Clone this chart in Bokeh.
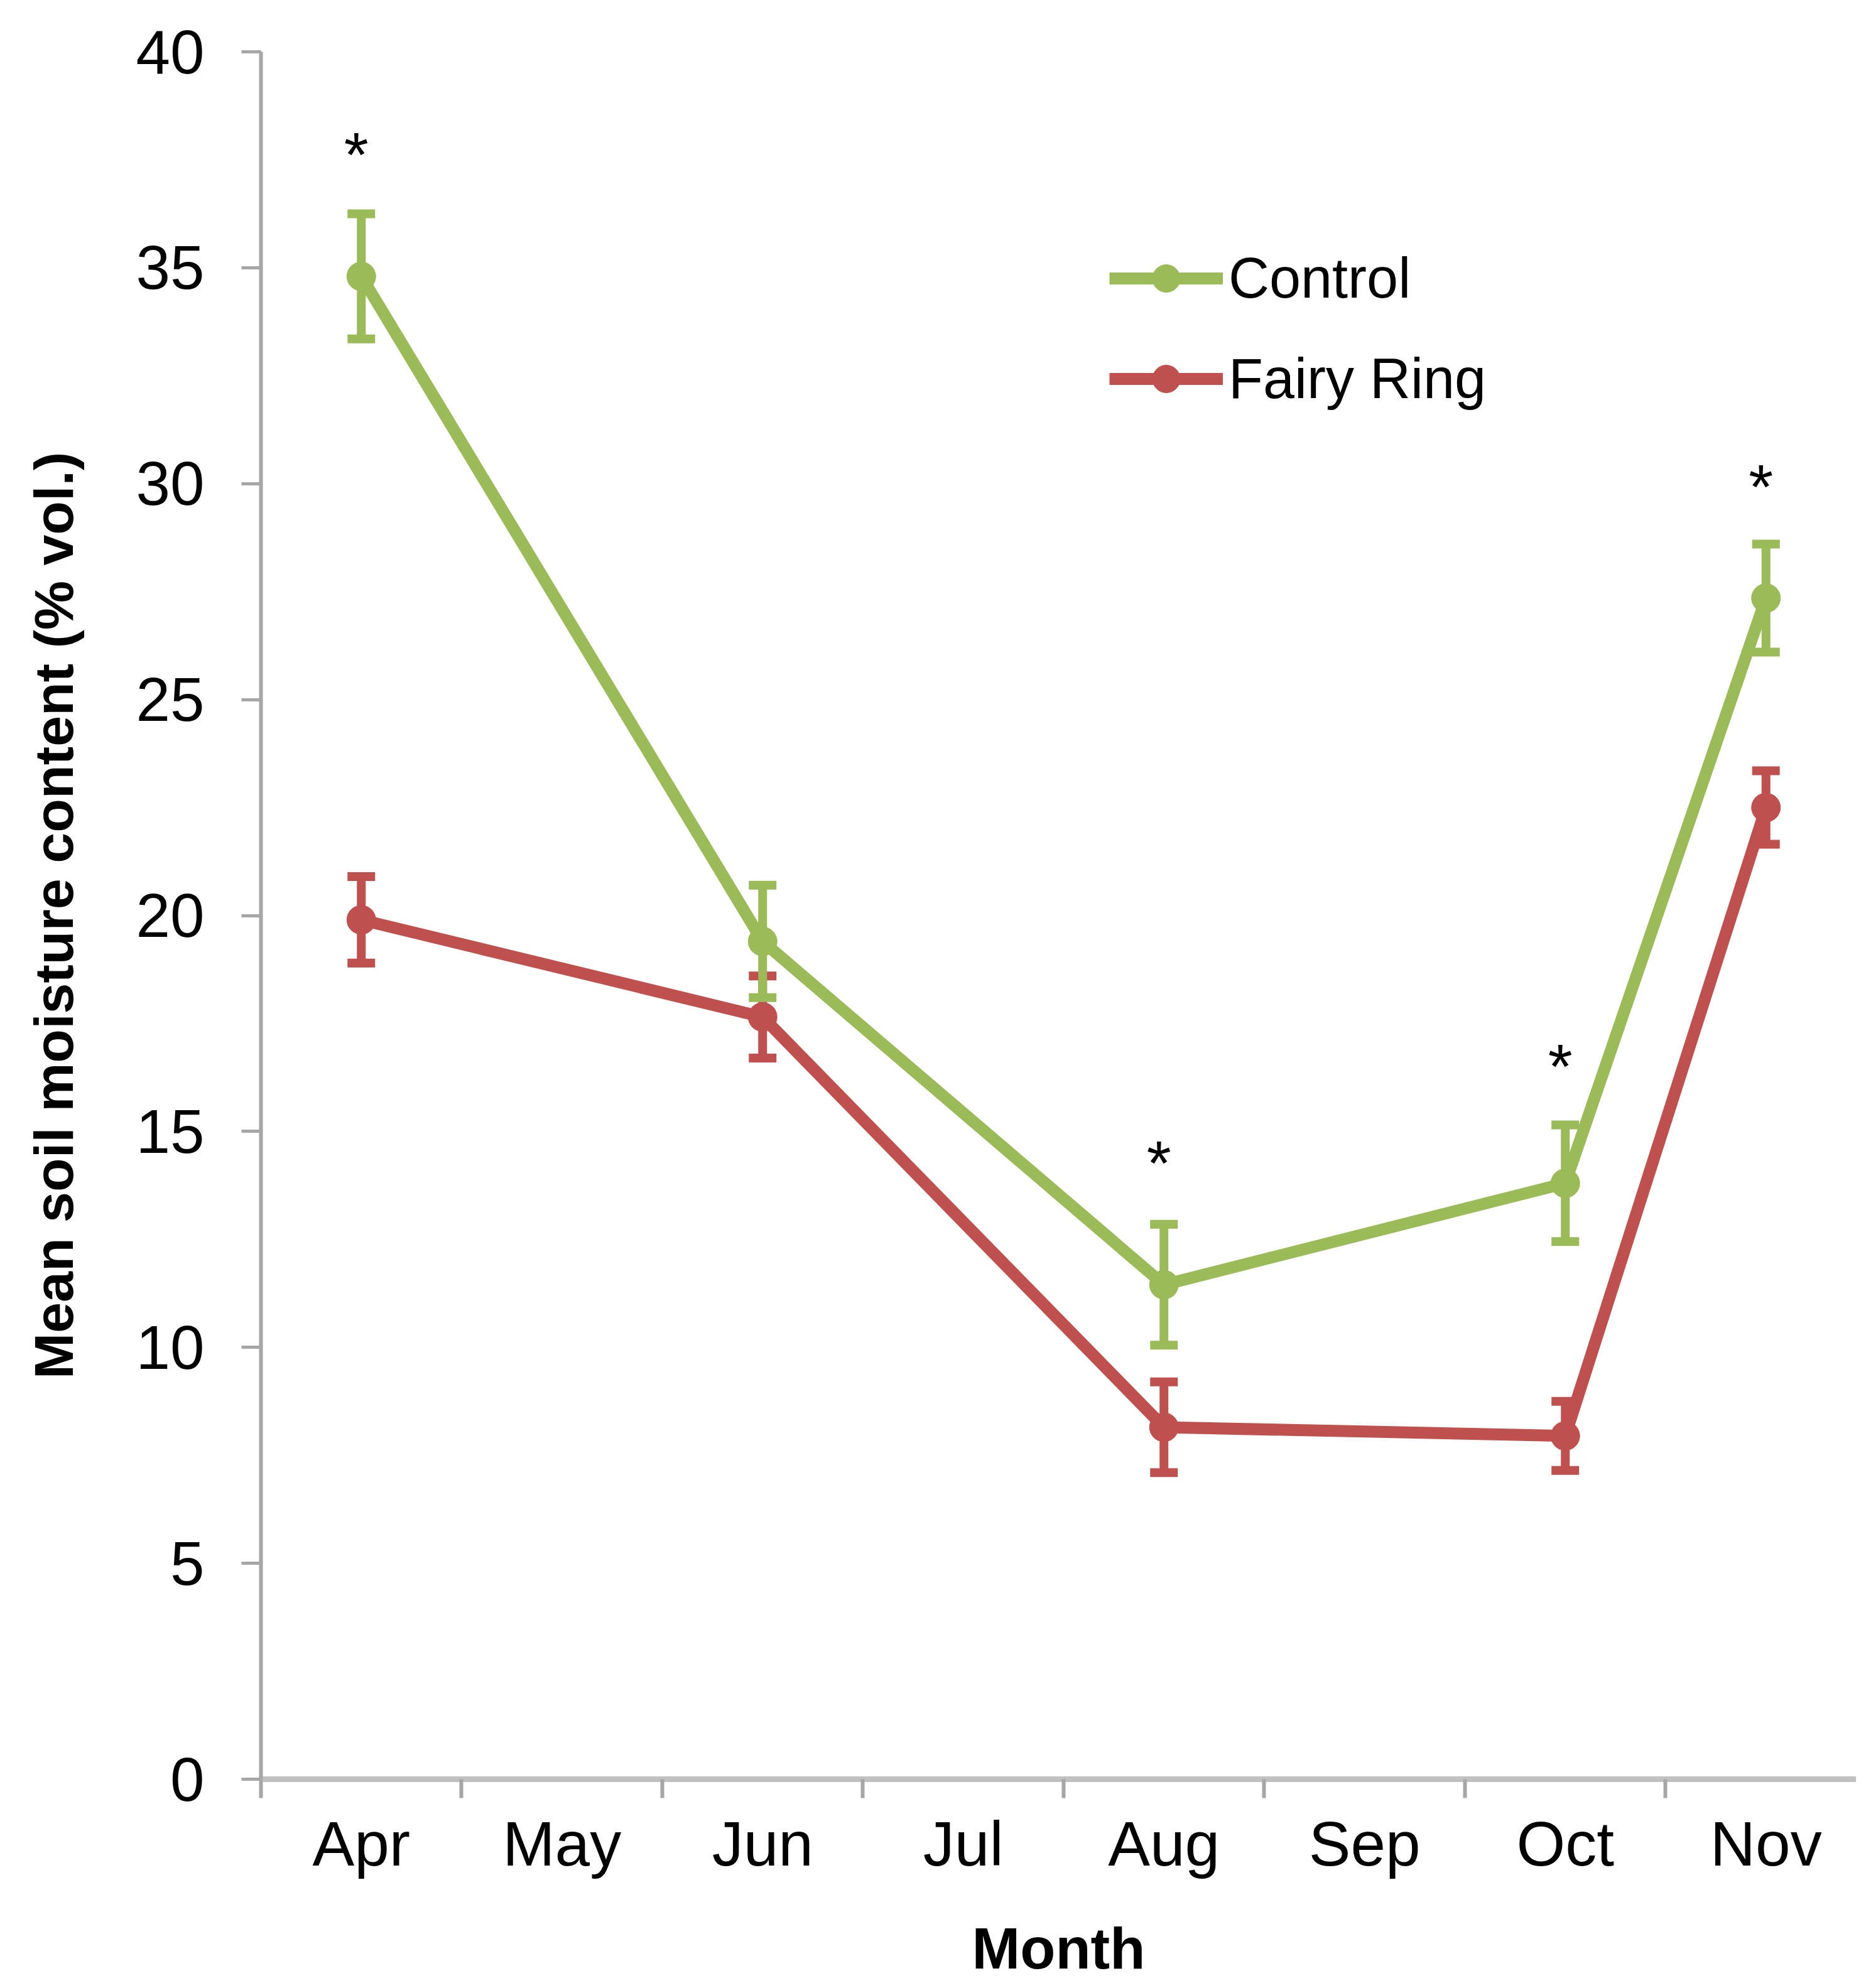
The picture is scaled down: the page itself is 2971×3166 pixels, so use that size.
from bokeh.plotting import figure
from bokeh.models import (Range1d, FixedTicker, Whisker, TeeHead, ColumnDataSource,
                          Legend, LegendItem)
from bokeh.core.properties import value
from bokeh.embed import file_html
from bokeh.resources import INLINE

# ---------------- data ----------------
months = ["Apr", "May", "Jun", "Jul", "Aug", "Sep", "Oct", "Nov"]
sample_months = ["Apr", "Jun", "Aug", "Oct", "Nov"]
control = [34.8, 19.4, 11.45, 13.8, 27.35]
control_se = [1.45, 1.3, 1.4, 1.35, 1.25]
fairy_ring = [19.9, 17.65, 8.15, 7.95, 22.5]
fairy_ring_se = [1.0, 0.95, 1.05, 0.8, 0.85]
sig_months = ["Apr", "Aug", "Oct", "Nov"]
sig_y = [37.8, 14.45, 16.68, 30.1]
y_ticks = [0, 5, 10, 15, 20, 25, 30, 35, 40]

GREEN = "#9BBB59"
RED = "#C0504D"
FONT = "Liberation Sans"
AXIS_GRAY = "#A6A6A6"

centers = [i + 0.5 for i in range(len(months))]
bounds = [float(i) for i in range(len(months) + 1)]
xs = [months.index(m) + 0.5 for m in sample_months]
sig_x = [months.index(m) + 0.5 for m in sig_months]

p = figure(width=2955, height=3158, output_backend="svg", toolbar_location=None,
           x_range=Range1d(0, 7.95), y_range=Range1d(0, 40),
           min_border_left=415, min_border_right=0, min_border_top=82,
           min_border_bottom=325)
p.outline_line_color = None
p.grid.visible = False
p.background_fill_color = "white"
p.border_fill_color = "white"

# x axis
xa = p.xaxis[0]
xa.ticker = FixedTicker(ticks=centers, minor_ticks=bounds)
xa.major_label_overrides = {c: m for c, m in zip(centers, months)}
xa.major_tick_out = 0
xa.major_tick_in = 0
xa.minor_tick_out = 30
xa.minor_tick_in = 0
xa.minor_tick_line_color = AXIS_GRAY
xa.minor_tick_line_width = 6
xa.axis_line_color = "#C0C0C0"
xa.axis_line_width = 9
xa.major_label_text_font = FONT
xa.major_label_text_font_size = "100px"
xa.major_label_text_color = "black"
xa.major_label_standoff = 16
xa.axis_label = "Month"
xa.axis_label_text_font = FONT
xa.axis_label_text_font_style = "bold"
xa.axis_label_text_font_size = "92px"
xa.axis_label_text_color = "black"
xa.axis_label_standoff = 57

# y axis
ya = p.yaxis[0]
ya.ticker = FixedTicker(ticks=y_ticks, minor_ticks=[])
ya.major_tick_out = 31
ya.major_tick_in = 0
ya.major_tick_line_color = AXIS_GRAY
ya.major_tick_line_width = 5
ya.axis_line_color = AXIS_GRAY
ya.axis_line_width = 6
ya.major_label_text_font = FONT
ya.major_label_text_font_size = "98px"
ya.major_label_text_color = "black"
ya.major_label_standoff = 59
ya.axis_label = "Mean soil moisture content (% vol.)"
ya.axis_label_text_font = FONT
ya.axis_label_text_font_style = "bold"
ya.axis_label_text_font_size = "88px"
ya.axis_label_text_color = "black"
ya.axis_label_standoff = 78

# series
src_c = ColumnDataSource(dict(x=xs, y=control,
                              upper=[v + e for v, e in zip(control, control_se)],
                              lower=[v - e for v, e in zip(control, control_se)]))
src_f = ColumnDataSource(dict(x=xs, y=fairy_ring,
                              upper=[v + e for v, e in zip(fairy_ring, fairy_ring_se)],
                              lower=[v - e for v, e in zip(fairy_ring, fairy_ring_se)]))

items = []
for src, col, name in [(src_f, RED, "Fairy Ring"), (src_c, GREEN, "Control")]:
    ln = p.line("x", "y", source=src, line_color=col, line_width=19)
    sc = p.scatter("x", "y", source=src, size=46, fill_color=col, line_color=col)
    w = Whisker(base="x", upper="upper", lower="lower", source=src,
                line_color=col, line_width=14,
                upper_head=TeeHead(size=44, line_color=col, line_width=14),
                lower_head=TeeHead(size=44, line_color=col, line_width=14))
    p.add_layout(w)
    items.append(LegendItem(label=name, renderers=[ln, sc]))

items = items[::-1]
legend = Legend(items=items, location=(1351, 2175), orientation="vertical",
                glyph_width=181, glyph_height=110, label_standoff=9,
                label_text_font=FONT, label_text_font_size="90px",
                label_text_color="black", spacing=50, padding=0, margin=0,
                border_line_color=None, background_fill_alpha=0)
p.add_layout(legend)

# significance stars
p.text(x=sig_x, y=sig_y, text=["*"] * len(sig_x), text_font=value(FONT),
       text_font_size="100px", text_align="center", text_baseline="middle",
       text_color="black", x_offset=-8, y_offset=12)

open("out.html", "w").write(file_html(p, INLINE))
